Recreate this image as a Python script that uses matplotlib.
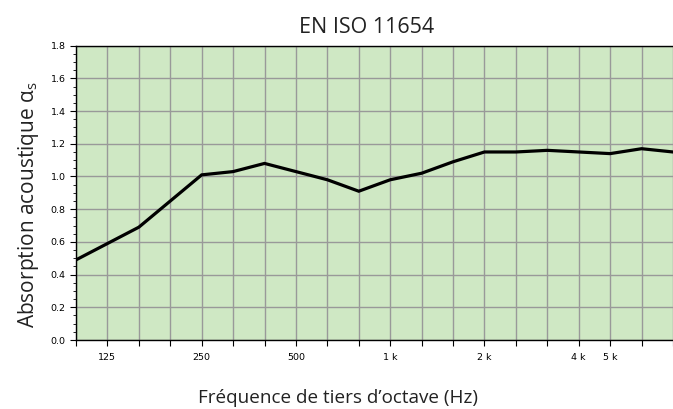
import matplotlib
matplotlib.use("Agg")
import matplotlib.pyplot as plt
from matplotlib.ticker import MultipleLocator

# third-octave bands (Hz) and measured absorption coefficient
bands = [100, 125, 160, 200, 250, 315, 400, 500, 630, 800, 1000,
         1250, 1600, 2000, 2500, 3150, 4000, 5000, 6300, 8000]
alpha_s = [0.49, 0.59, 0.69, 0.85, 1.01, 1.03, 1.08, 1.03, 0.98, 0.91, 0.98,
           1.02, 1.09, 1.15, 1.15, 1.16, 1.15, 1.14, 1.17, 1.15]
shown_labels = {125: "125", 250: "250", 500: "500", 1000: "1 k",
                2000: "2 k", 4000: "4 k", 5000: "5 k"}

title = "EN ISO 11654"
xlabel = "Fréquence de tiers d\u2019octave (Hz)"
ylabel = "Absorption acoustique α$_\\mathregular{s}$"

fig = plt.figure(figsize=(6.73, 4.09), dpi=100)
ax = fig.add_axes([76 / 673, 69 / 409, 1 - 76 / 673, (340 - 45.7) / 409])

x = list(range(len(bands)))
ax.set_facecolor("#cfe8c4")
ax.plot(x, alpha_s, color="black", linewidth=2.3, solid_joinstyle="miter", zorder=3)

ax.set_xlim(0, 18.9)
ax.set_ylim(0, 1.8)
ax.set_xticks(x)
ax.set_xticklabels([shown_labels.get(b, "") for b in bands])
ax.yaxis.set_major_locator(MultipleLocator(0.2))
ax.yaxis.set_minor_locator(MultipleLocator(0.05))
ax.yaxis.set_major_formatter(plt.FormatStrFormatter("%.1f"))

ax.grid(True, which="major", color="#999999", linewidth=1.0)
ax.set_axisbelow(True)

ax.tick_params(axis="both", which="major", labelsize=6.8, length=4, width=0.8,
               color="black", direction="out")
ax.tick_params(axis="x", pad=5)
ax.tick_params(axis="y", which="minor", length=2, width=0.6)

for side in ["left", "bottom", "top"]:
    ax.spines[side].set_color("black")
    ax.spines[side].set_linewidth(1.0)
ax.spines["right"].set_visible(False)

ax.set_title(title, fontsize=15.5, family="Open Sans", color="#222222", pad=9.5, x=0.486)
ax.set_xlabel(xlabel, fontsize=13.6, family="Open Sans", color="#222222")
ax.xaxis.set_label_coords(0.439, -0.226)
ax.xaxis.label.set_va("bottom")
ax.set_ylabel(ylabel, fontsize=15, family="Open Sans", color="#222222")
ax.yaxis.set_label_coords(-0.058, 0.46)

fig.savefig("out.png", dpi=100)
